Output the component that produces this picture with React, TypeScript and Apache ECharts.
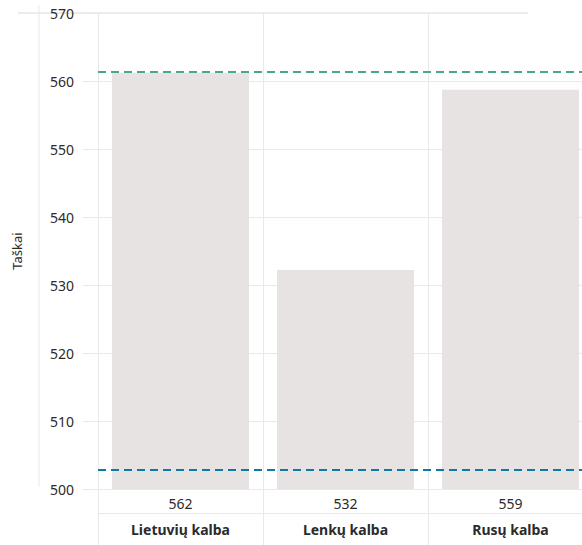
import React, { useEffect, useRef } from "react";
import * as echarts from "echarts";

const categories = ["Lietuvių kalba", "Lenkų kalba", "Rusų kalba"];
const barValues = [561.2, 532.2, 558.7];
const valueLabels = ["562", "532", "559"];
const greenLine = 561.3;
const blueLine = 502.9;
const yTicks = [500, 510, 520, 530, 540, 550, 560, 570];

export default function App() {
  const ref = useRef<HTMLDivElement>(null);
  useEffect(() => {
    const chart = echarts.init(ref.current!, null, { renderer: "svg" });
    const grid = "#e9e9e9";
    const font = "'Noto Sans', 'Open Sans', sans-serif";
    chart.setOption({
      animation: false,
      grid: { left: 98, top: 13, bottom: 56, width: 495, outerBoundsMode: "none", containLabel: false },
      xAxis: [
        {
          type: "category",
          data: valueLabels,
          position: "bottom",
          axisLine: { show: true, lineStyle: { color: grid, width: 1 } },
          axisTick: { show: true, length: 56, lineStyle: { color: grid } },
          splitLine: { show: true, lineStyle: { color: grid } },
          axisLabel: { color: "#2b2b2b", fontSize: 14, fontFamily: font, margin: 7 },
        },
        {
          type: "category",
          data: categories,
          position: "bottom",
          offset: 24,
          axisLine: { show: true, lineStyle: { color: grid, width: 1 } },
          axisTick: { show: false },
          axisLabel: { color: "#2b2b2b", fontSize: 14, fontWeight: "bold", fontFamily: font, margin: 9 },
        },
      ],
      yAxis: {
        type: "value",
        min: yTicks[0],
        max: yTicks[yTicks.length - 1],
        interval: 10,
        name: "Taškai",
        nameLocation: "middle",
        nameGap: 75,
        nameRotate: 90,
        nameTextStyle: { color: "#2b2b2b", fontSize: 13, fontFamily: font },
        axisLine: { show: false },
        axisTick: { show: true, length: 15, lineStyle: { color: grid } },
        axisLabel: { color: "#2b2b2b", fontSize: 14, fontFamily: font, margin: 24 },
        splitLine: {
          show: true,
          lineStyle: { color: [grid, grid, grid, grid, grid, grid, grid, "rgba(0,0,0,0)"] },
        },
      },
      graphic: [
        { type: "line", shape: { x1: 39, y1: 5, x2: 39, y2: 487 }, style: { stroke: grid, lineWidth: 1 } },
        { type: "line", shape: { x1: 18, y1: 13, x2: 528, y2: 13 }, style: { stroke: "#e6e6e6", lineWidth: 1.5 } },
      ],
      series: [
        {
          type: "bar",
          data: barValues,
          barWidth: 137,
          itemStyle: { color: "#e7e3e3" },
          markLine: {
            symbol: "none",
            silent: true,
            label: { show: false },
            data: [
              { yAxis: greenLine, lineStyle: { color: "#48a78d", type: [8, 5], width: 2 } },
              { yAxis: blueLine, lineStyle: { color: "#0b7ba3", type: [8, 5], width: 2 } },
            ],
          },
        },
      ],
    });
    return () => chart.dispose();
  }, []);
  return (
    <div
      ref={ref}
      style={{ position: "fixed", left: 0, top: 0, width: 582, height: 545, overflow: "hidden", background: "#fff" }}
    />
  );
}
